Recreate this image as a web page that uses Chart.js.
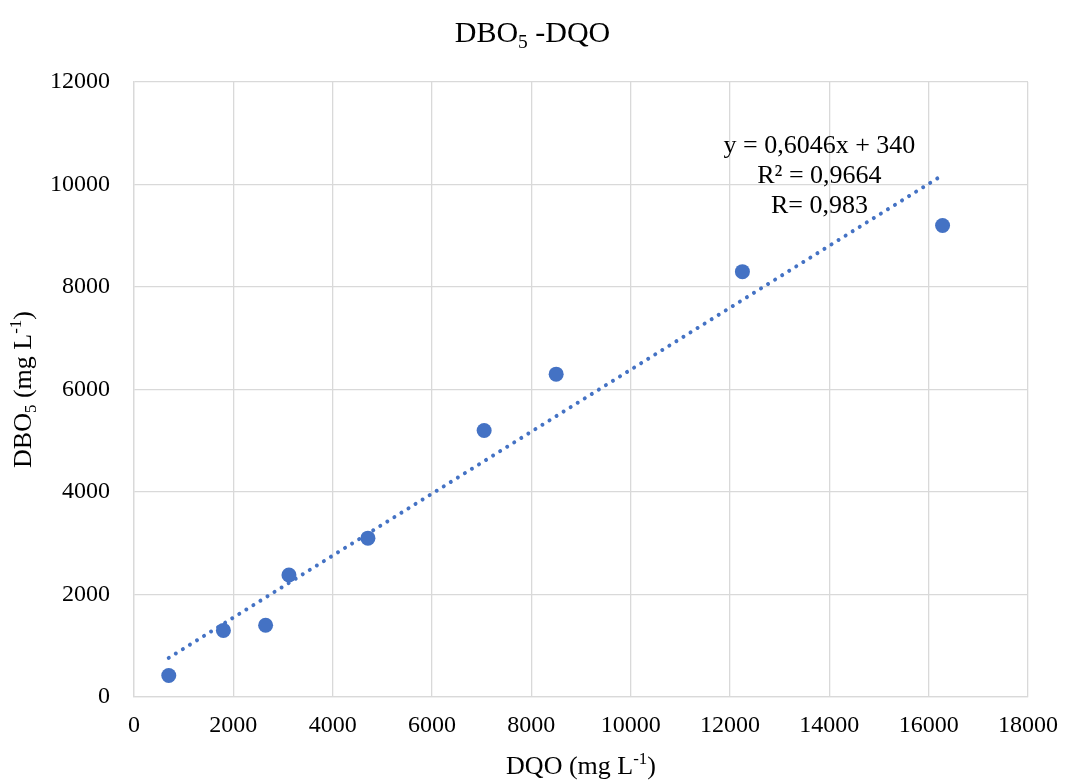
<!DOCTYPE html>
<html>
<head>
<meta charset="utf-8">
<script src="https://cdn.jsdelivr.net/npm/chart.js@4.4.0/dist/chart.umd.min.js"></script>
<style>
  body { margin: 0; background: #fff; }
  canvas { display: block; }
</style>
</head>
<body>
<canvas id="chart" width="1065" height="780"></canvas>
<script>
// DQO vs DBO5 samples (mg L-1)
const dqo = [700, 1800, 2650, 3120, 4710, 7050, 8500, 12250, 16280];
const dbo = [420, 1300, 1400, 2380, 3100, 5200, 6300, 8300, 9200];

// linear fit reported on the chart
const slope = 0.6046;
const intercept = 340;
const fitLabels = ["y = 0,6046x + 340", "R² = 0,9664", "R= 0,983"];

const xTicks = [0, 2000, 4000, 6000, 8000, 10000, 12000, 14000, 16000, 18000];
const yTicks = [0, 2000, 4000, 6000, 8000, 10000, 12000];

const blue = "#4472C4";
const serif = "'Liberation Serif', 'Times New Roman', serif";

const points = dqo.map((x, i) => ({ x: x, y: dbo[i] }));
const xMin = Math.min(...dqo);
const xMax = Math.max(...dqo);
const trend = [
    { x: xMin, y: slope * xMin + intercept },
    { x: xMax, y: slope * xMax + intercept }
];

// draws text pieces with sub/superscripts, centred on (cx, cy)
function richText(ctx, parts, cx, cy, size, rotate) {
    ctx.save();
    ctx.translate(cx, cy);
    if (rotate) ctx.rotate(-Math.PI / 2);
    ctx.fillStyle = "#000";
    ctx.textBaseline = "alphabetic";
    ctx.textAlign = "left";
    let total = 0;
    const widths = parts.map(p => {
        const fs = p.s ? size * 0.65 : size;
        ctx.font = fs + "px " + serif;
        const w = ctx.measureText(p.t).width;
        total += w;
        return w;
    });
    let x = -total / 2;
    const base = size * 0.33;
    parts.forEach((p, i) => {
        const fs = p.s ? size * 0.65 : size;
        ctx.font = fs + "px " + serif;
        let y = base;
        if (p.s === "sub") y += size * 0.2;
        if (p.s === "sup") y -= size * 0.38;
        ctx.fillText(p.t, x, y);
        x += widths[i];
    });
    ctx.restore();
}

const labelsPlugin = {
    id: "labels",
    afterDraw(chart) {
        const ctx = chart.ctx;
        const area = chart.chartArea;
        const cxPlot = (area.left + area.right) / 2;
        const cyPlot = (area.top + area.bottom) / 2;

        richText(ctx, [{ t: "DBO" }, { t: "5", s: "sub" }, { t: " -DQO" }], chart.width / 2, 32, 30);
        richText(ctx, [{ t: "DQO (mg L" }, { t: "-1", s: "sup" }, { t: ")" }], cxPlot, 765, 26);
        richText(ctx, [{ t: "DBO" }, { t: "5", s: "sub" }, { t: " (mg L" }, { t: "-1", s: "sup" }, { t: ")" }], 22, cyPlot, 26, true);

        // regression equation
        const xs = chart.scales.x;
        const ys = chart.scales.y;
        const lx = xs.getPixelForValue(13800);
        const ly = ys.getPixelForValue(10780);
        fitLabels.forEach((txt, i) => {
            richText(ctx, [{ t: txt }], lx, ly + i * 30, 26);
        });
    }
};

const plain = v => String(v);

new Chart(document.getElementById("chart").getContext("2d"), {
    type: "scatter",
    data: {
        datasets: [
            {
                data: points,
                backgroundColor: blue,
                borderColor: blue,
                borderWidth: 0,
                pointRadius: 7.5
            },
            {
                type: "line",
                data: trend,
                borderColor: blue,
                borderWidth: 4,
                borderDash: [0.01, 8.3],
                borderCapStyle: "round",
                pointRadius: 0,
                fill: false
            }
        ]
    },
    options: {
        responsive: false,
        animation: false,
        layout: { padding: { left: 0, top: 82, right: 37, bottom: 0 } },
        plugins: {
            legend: { display: false },
            tooltip: { enabled: false },
            title: { display: false }
        },
        scales: {
            x: {
                type: "linear",
                min: 0,
                max: 18000,
                afterBuildTicks: s => { s.ticks = xTicks.map(v => ({ value: v })); },
                afterFit: s => { s.height = 83; s.paddingLeft = 0; s.paddingRight = 0; },
                grid: { color: "#d9d9d9", lineWidth: 1.3, drawTicks: false },
                border: { color: "#d9d9d9", width: 1.3 },
                ticks: {
                    padding: 14,
                    color: "#000",
                    maxRotation: 0,
                    callback: plain,
                    font: { family: serif, size: 24 }
                }
            },
            y: {
                type: "linear",
                min: 0,
                max: 12000,
                afterBuildTicks: s => { s.ticks = yTicks.map(v => ({ value: v })); },
                afterFit: s => { s.width = 134; s.paddingTop = 0; s.paddingBottom = 0; },
                grid: { color: "#d9d9d9", lineWidth: 1.3, drawTicks: false },
                border: { color: "#d9d9d9", width: 1.3 },
                ticks: {
                    padding: 24,
                    color: "#000",
                    callback: plain,
                    font: { family: serif, size: 24 }
                }
            }
        }
    },
    plugins: [labelsPlugin]
});
</script>
</body>
</html>
